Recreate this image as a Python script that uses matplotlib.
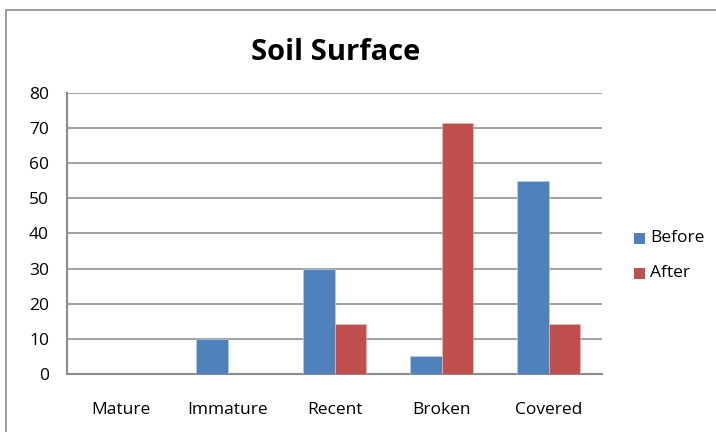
import numpy as np
import matplotlib
matplotlib.use('Agg')
import matplotlib.pyplot as plt
from matplotlib.patches import Rectangle

plt.rcParams['font.family'] = ['Open Sans', 'DejaVu Sans']

categories = ['Mature', 'Immature', 'Recent', 'Broken', 'Covered']
before = [0, 10, 30, 5, 55]
after = [0, 0, 14.3, 71.4, 14.3]
series_names = ['Before', 'After']

BLUE = '#4F81BD'
RED = '#C0504D'
GRID = '#9A9A9A'

fig = plt.figure(figsize=(7.16, 4.32), dpi=100, facecolor='white')

# chart frame
fig.patches.append(Rectangle((6 / 716, -0.1), 1.0, 1.1 - 10 / 432, transform=fig.transFigure,
                             facecolor='none', edgecolor='#8C8C8C', linewidth=1.2))

ax = fig.add_axes([0.0936, 0.1343, 0.7472, 0.6505])
x = np.arange(len(categories))
w = 0.29
ax.bar(x - w / 2, before, w, color=BLUE, edgecolor='#B9CDE5', linewidth=0.5, zorder=3)
ax.bar(x + w / 2, after, w, color=RED, edgecolor='#E6B9B8', linewidth=0.5, zorder=3)

ax.set_xlim(-0.5, len(categories) - 0.5)
ax.set_ylim(0, 80)
ax.set_yticks(range(0, 81, 10))
ax.yaxis.grid(True, color=GRID, linewidth=1.3, zorder=0)
ax.set_xticks(x)
ax.set_xticklabels(categories)
ax.tick_params(axis='both', length=0, colors='#000000', labelsize=12.5)
ax.tick_params(axis='x', pad=20)
ax.tick_params(axis='y', pad=13)
for s in ['top', 'right']:
    ax.spines[s].set_visible(False)
for s in ['left', 'bottom']:
    ax.spines[s].set_color('#8C8C8C')
    ax.spines[s].set_linewidth(1.5)

fig.text(0.469, 0.878, 'Soil Surface', ha='center', va='center',
         fontsize=21, fontweight='bold')

# legend
for name, col, ypix in zip(series_names, [BLUE, RED], [238, 273]):
    yf = 1 - ypix / 432
    fig.patches.append(Rectangle((634 / 716, yf - 5.5 / 432), 11 / 716, 11 / 432,
                                 transform=fig.transFigure, facecolor=col, edgecolor='none'))
    fig.text(650 / 716, yf, name, va='center', ha='left', fontsize=12.5)

fig.savefig('out.png', dpi=100, facecolor='white')
